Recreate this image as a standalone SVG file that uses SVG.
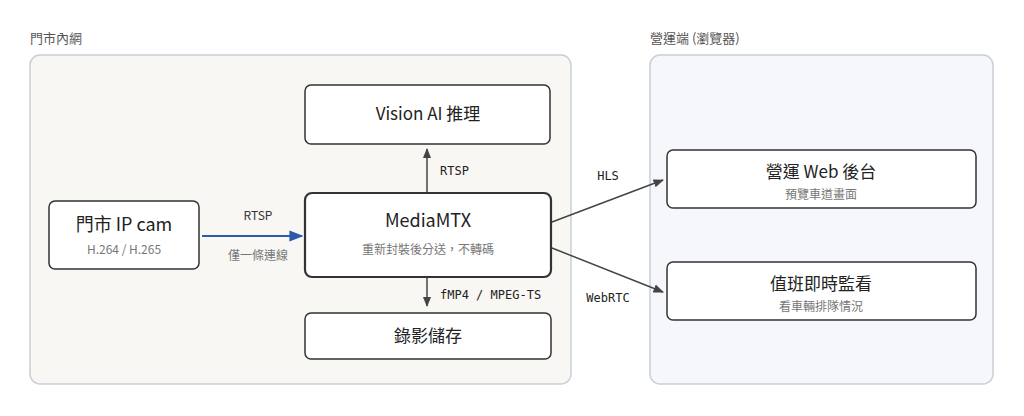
<svg xmlns="http://www.w3.org/2000/svg" width="1024" height="416" viewBox="0 0 1024 416">
<style>
.t{font-family:"Noto Sans CJK TC","Noto Sans",sans-serif;fill:#222}
.s{font-family:"Noto Sans CJK TC","Noto Sans",sans-serif;fill:#777;font-size:12px}
.m{font-family:"DejaVu Sans Mono",monospace;fill:#222;font-size:12px}
.n{fill:#fff;stroke:#333;stroke-width:1.5}
.c{stroke:#444;stroke-width:1.5;fill:none}
</style>
<defs>
<marker id="a" viewBox="0 0 10 10" refX="9" refY="5" markerWidth="7" markerHeight="7" orient="auto"><path d="M0,1 L10,5 L0,9z" fill="#444"/></marker>
<marker id="b" viewBox="0 0 10 10" refX="9" refY="5" markerWidth="7" markerHeight="7" orient="auto"><path d="M0,1 L10,5 L0,9z" fill="#2a5cab"/></marker>
</defs>
<rect width="1024" height="416" fill="#fff"/>
<g id="store">
<rect x="30" y="55" width="541" height="329" rx="10" fill="#f9f7f3" stroke="#c9cfd8" stroke-width="1.5"/>
<text class="t" x="30" y="43" font-size="13" fill="#555" style="fill:#555">門市內網</text>
</g>
<g id="ops">
<rect x="650" y="55" width="343" height="329" rx="10" fill="#f6f7fa" stroke="#c9cfd8" stroke-width="1.5"/>
<text class="t" x="650" y="43" font-size="13" style="fill:#555">營運端 (瀏覽器)</text>
</g>
<g id="connectors">
<line x1="202" y1="236" x2="302" y2="236" stroke="#2a5cab" stroke-width="2" marker-end="url(#b)"/>
<text class="s" x="258" y="220" text-anchor="middle" style="fill:#333">RTSP</text>
<text class="s" x="258" y="260" text-anchor="middle">僅一條連線</text>
<line class="c" x1="427" y1="192" x2="427" y2="149" marker-end="url(#a)"/>
<text class="m" x="440" y="175">RTSP</text>
<line class="c" x1="427" y1="278" x2="427" y2="306" marker-end="url(#a)"/>
<text class="m" x="440" y="299">fMP4 / MPEG-TS</text>
<line class="c" x1="552" y1="222" x2="663" y2="180" marker-end="url(#a)"/>
<text class="m" x="608" y="180" text-anchor="middle">HLS</text>
<line class="c" x1="552" y1="248" x2="663" y2="292" marker-end="url(#a)"/>
<text class="m" x="608" y="302" text-anchor="middle">WebRTC</text>
</g>
<g id="cam">
<rect class="n" x="49" y="201" width="150" height="68" rx="6"/>
<text class="t" x="124" y="231" font-size="18" text-anchor="middle">門市 IP cam</text>
<text class="s" x="124" y="254" text-anchor="middle">H.264 / H.265</text>
</g>
<g id="mtx">
<rect class="n" x="305" y="193" width="246" height="84" rx="7" style="stroke-width:2.2"/>
<text class="t" x="428" y="227" font-size="18" text-anchor="middle">MediaMTX</text>
<text class="s" x="428" y="254" text-anchor="middle">重新封裝後分送，不轉碼</text>
</g>
<g id="ai">
<rect class="n" x="305" y="85" width="245" height="59" rx="6"/>
<text class="t" x="428" y="120" font-size="17" text-anchor="middle">Vision AI 推理</text>
</g>
<g id="rec">
<rect class="n" x="305" y="313" width="246" height="46" rx="6"/>
<text class="t" x="428" y="342" font-size="17" text-anchor="middle">錄影儲存</text>
</g>
<g id="web">
<rect class="n" x="667" y="150" width="309" height="58" rx="6"/>
<text class="t" x="821" y="178" font-size="17" text-anchor="middle">營運 Web 後台</text>
<text class="s" x="821" y="199" text-anchor="middle">預覽車道畫面</text>
</g>
<g id="duty">
<rect class="n" x="667" y="262" width="309" height="58" rx="6"/>
<text class="t" x="821" y="290" font-size="17" text-anchor="middle">值班即時監看</text>
<text class="s" x="821" y="311" text-anchor="middle">看車輛排隊情況</text>
</g>
</svg>
